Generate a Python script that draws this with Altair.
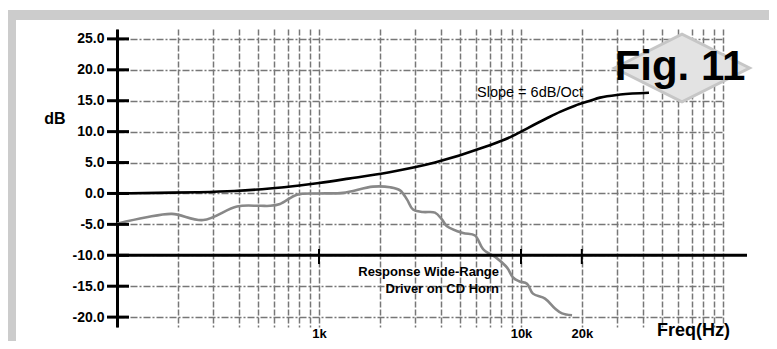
import altair as alt
import pandas as pd

# ---- data ----
black_freq = [100, 160, 250, 380, 570, 800, 1000, 1400, 2200, 3750, 6600, 9100, 10000,
              13500, 15600, 18500, 22000, 24600, 31000, 43000]
black_db = [0.0, 0.1, 0.2, 0.4, 0.8, 1.3, 1.7, 2.4, 3.4, 5.0, 7.5, 9.3, 10.0,
            12.2, 13.2, 14.2, 15.0, 15.5, 16.0, 16.3]

gray_freq = [100, 138, 187, 267, 393, 510, 572, 641, 778, 1000, 1315, 1850, 2250,
             2520, 2730, 2920, 3270, 3750, 4060, 4300, 5160, 5920, 6490, 7610,
             8530, 9130, 9780, 10710, 11460, 13150, 14730, 15960, 17890]
gray_db = [-4.9, -3.9, -3.3, -4.3, -2.1, -2.0, -2.0, -1.7, -0.2, 0.0, 0.1, 1.1, 1.0,
           0.5, -1.0, -2.6, -3.0, -3.1, -4.2, -5.3, -6.4, -6.8, -9.0, -10.5,
           -12.0, -13.6, -14.2, -14.6, -16.2, -17.0, -18.6, -19.4, -19.7]

y_ticks = [-20, -15, -10, -5, 0, 5, 10, 15, 20, 25]
x_major = [1000, 10000, 20000]
x_labels = ["1k", "10k", "20k"]
axis_level = [-10]

FONT = "Liberation Sans"

xs = alt.Scale(type="log", domain=[100, 100000], nice=False)
ys = alt.Scale(domain=[-21.6, 26.6], nice=False, zero=False)

grid_vals = [m * 10 ** e for e in (2, 3, 4) for m in range(1, 10)] + [100000]
label_expr = " : ".join(
    f"datum.value == {v} ? '{l}'" for v, l in zip(x_major, x_labels)
) + " : ''"

x_axis = alt.Axis(values=grid_vals, grid=True, gridColor="#777777", gridDash=[6, 2],
                  gridWidth=1.5, domain=False, ticks=False, tickSize=0, labelPadding=0,
                  labelExpr=label_expr, labelFont=FONT, labelFontSize=13,
                  labelFontWeight="bold", labelColor="black", labelOverlap=False,
                  labelFlush=False, title=None)
y_axis = alt.Axis(values=y_ticks, grid=True, gridColor="#777777", gridDash=[7, 2, 2, 2],
                  gridWidth=1.5, domainColor="black", domainWidth=3, ticks=False,
                  tickSize=0, labelPadding=13, labelFont=FONT, labelFontSize=14,
                  labelFontWeight="bold", labelColor="black",
                  labelExpr="(datum.value < 0 ? '-' : '') + format(abs(datum.value), '.1f')",
                  title=None)


def X():
    return alt.X("f:Q", scale=xs, axis=x_axis)


def Y():
    return alt.Y("db:Q", scale=ys, axis=y_axis)


one = pd.DataFrame({"k": [0]})

# gray frame bands
frame_left = alt.Chart(one).mark_rect(color="#cccccc").encode(
    x=alt.value(-109), x2=alt.value(-101), y=alt.value(-19), y2=alt.value(312))
frame_top = alt.Chart(one).mark_rect(color="#cccccc").encode(
    x=alt.value(-109), x2=alt.value(652), y=alt.value(-19), y2=alt.value(-9))

gray_df = pd.DataFrame({"f": gray_freq, "db": gray_db})
black_df = pd.DataFrame({"f": black_freq, "db": black_db})

gray_line = alt.Chart(gray_df).mark_line(color="#888888", strokeWidth=2.6,
                                          interpolate="catmull-rom").encode(x=X(), y=Y())

black_line = alt.Chart(black_df).mark_line(color="black", strokeWidth=2.6,
                                            interpolate="monotone").encode(x=X(), y=Y())

# -10 dB axis line
lvl = alt.Chart(pd.DataFrame({"db": axis_level})).mark_rule(
    color="black", strokeWidth=3).encode(y=Y(), x=alt.value(0), x2=alt.value(630))

# ticks on the -10 line
xt = alt.Chart(pd.DataFrame({"f": x_major})).mark_rule(color="black", strokeWidth=2).encode(
    x=X(), y=alt.value(220), y2=alt.value(235))

# y ticks crossing the axis
yt = alt.Chart(pd.DataFrame({"db": y_ticks})).mark_rule(color="black", strokeWidth=3).encode(
    y=Y(), x=alt.value(-10), x2=alt.value(12))

# Fig. 11 badge
badge = alt.Chart(one).mark_point(
    shape="M-1,0L0,-0.5L1,0L0,0.5Z", size=135 ** 2, filled=True, fill="#e3e3e3",
    stroke="#c6c6c6", strokeWidth=3, opacity=1, fillOpacity=1, strokeOpacity=1).encode(
    x=alt.value(565), y=alt.value(39))


def label(txt, x, y, size, weight="bold", align="left", baseline="alphabetic"):
    return alt.Chart(pd.DataFrame({"t": [txt]})).mark_text(
        font=FONT, fontSize=size, fontWeight=weight, align=align, baseline=baseline,
        color="black").encode(text="t:N", x=alt.value(x), y=alt.value(y))


texts = [
    label("Fig. 11", 563, 51, 42, align="center"),
    label("Slope = 6dB/Oct", 360, 68, 14.5, weight="normal"),
    label("Response Wide-Range", 382, 247, 13, align="right"),
    label("Driver on CD Horn", 382, 264, 13, align="right"),
    label("dB", -62, 90, 16, align="center", baseline="middle"),
    label("Freq(Hz)", 540, 307, 18),
]

chart = alt.layer(
    frame_left, frame_top, gray_line, lvl, xt, yt, black_line, badge, *texts
).properties(
    width=606, height=298, autosize="none",
    padding={"left": 109, "top": 21, "right": 46, "bottom": 14},
    background="white",
).configure_view(stroke=None)

chart.save("out.html", embed_options={"renderer": "svg", "actions": False})
